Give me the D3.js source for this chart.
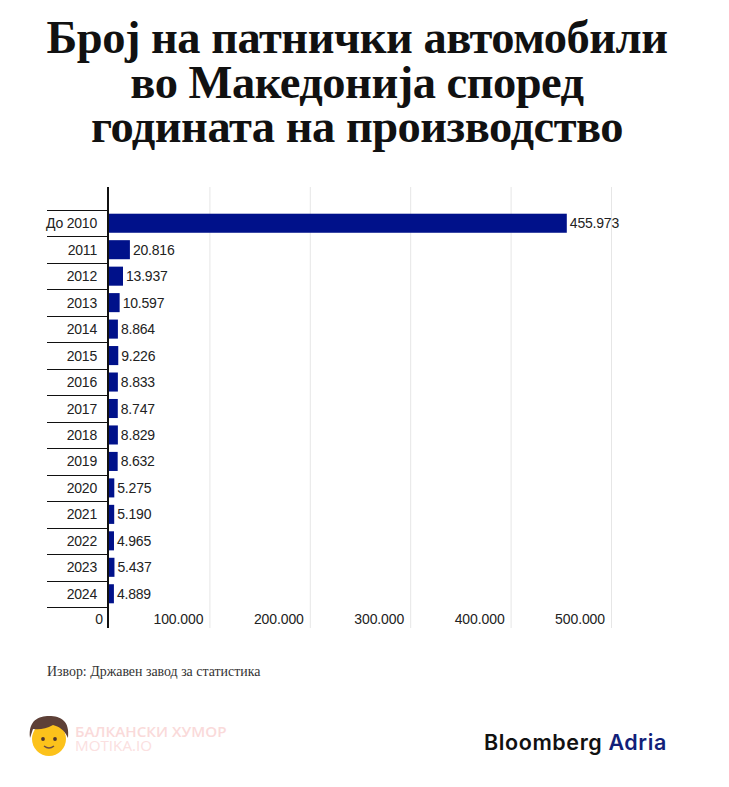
<!DOCTYPE html>
<html>
<head>
<meta charset="utf-8">
<script src="https://cdn.jsdelivr.net/npm/d3@7"></script>
<style>
  body { margin: 0; background: #fff; }
  svg { display: block; }
</style>
</head>
<body>
<svg width="729" height="787"></svg>
<script>
// data
var categories = ["До 2010", "2011", "2012", "2013", "2014", "2015", "2016", "2017",
                  "2018", "2019", "2020", "2021", "2022", "2023", "2024"];
var values = [455973, 20816, 13937, 10597, 8864, 9226, 8833, 8747,
              8829, 8632, 5275, 5190, 4965, 5437, 4889];
var ticks = [0, 100000, 200000, 300000, 400000, 500000];
var titleLines = ["Број на патнички автомобили", "во Македонија според", "годината на производство"];

var svg = d3.select("svg");

var locale = d3.formatLocale({ decimal: ",", thousands: ".", grouping: [3], currency: ["", ""] });
var fmt = locale.format(",d");

var scaleX = d3.scaleLinear()
                .domain([0, 500000])
                .range([109, 611]);

var scaleY = d3.scaleBand()
                .domain(categories)
                .range([210, 607])
                .paddingInner(0.28)
                .paddingOuter(0.14);

var step = scaleY.step();

// title
svg.append("g").selectAll("text")
    .data(titleLines)
    .enter()
    .append("text")
    .attr("x", 357)
    .attr("y", function(d, i) { return 53 + i * 44.5; })
    .attr("text-anchor", "middle")
    .style("font-family", "'Liberation Serif', 'Times New Roman', serif")
    .style("font-weight", "bold")
    .style("font-size", "46.5px")
    .style("letter-spacing", "-0.5px")
    .attr("fill", "#111")
    .text(function(d) { return d; });

// gridlines
svg.append("g").selectAll("line")
    .data(ticks.slice(1))
    .enter()
    .append("line")
    .attr("x1", function(d) { return scaleX(d) + 0.5; })
    .attr("x2", function(d) { return scaleX(d) + 0.5; })
    .attr("y1", 187)
    .attr("y2", 628)
    .attr("stroke", "#e6e6e6")
    .attr("stroke-width", 1);

// row separators on the label side
var bounds = categories.map(function(c) { return scaleY(c) - scaleY.paddingOuter() * step; });
bounds.push(bounds[bounds.length - 1] + step);

svg.append("g").selectAll("line")
    .data(bounds)
    .enter()
    .append("line")
    .attr("x1", 47)
    .attr("x2", 108)
    .attr("y1", function(d) { return Math.round(d) + 0.5; })
    .attr("y2", function(d) { return Math.round(d) + 0.5; })
    .attr("stroke", "#111")
    .attr("stroke-width", 1.2);

// bars
svg.append("g").selectAll("rect")
    .data(values)
    .enter()
    .append("rect")
    .attr("x", scaleX(0))
    .attr("y", function(d, i) { return scaleY(categories[i]); })
    .attr("width", function(d) { return scaleX(d) - scaleX(0); })
    .attr("height", scaleY.bandwidth())
    .attr("fill", "#00118a");

// category labels
svg.append("g").selectAll("text")
    .data(categories)
    .enter()
    .append("text")
    .attr("x", 97)
    .attr("y", function(d) { return scaleY(d) + scaleY.bandwidth() / 2 + 5; })
    .attr("text-anchor", "end")
    .style("font-family", "'Liberation Sans', Arial, sans-serif")
    .style("font-size", "14px")
    .style("letter-spacing", "-0.2px")
    .attr("fill", "#222")
    .text(function(d) { return d; });

// value labels
svg.append("g").selectAll("text")
    .data(values)
    .enter()
    .append("text")
    .attr("x", function(d) { return scaleX(d) + 3; })
    .attr("y", function(d, i) { return scaleY(categories[i]) + scaleY.bandwidth() / 2 + 5; })
    .style("font-family", "'Liberation Sans', Arial, sans-serif")
    .style("font-size", "14px")
    .style("letter-spacing", "-0.2px")
    .attr("fill", "#222")
    .text(function(d) { return fmt(d); });

// x tick labels
svg.append("g").selectAll("text")
    .data(ticks)
    .enter()
    .append("text")
    .attr("x", function(d) { return scaleX(d) - 6; })
    .attr("y", 624)
    .attr("text-anchor", "end")
    .style("font-family", "'Liberation Sans', Arial, sans-serif")
    .style("font-size", "14px")
    .style("letter-spacing", "-0.1px")
    .attr("fill", "#222")
    .text(function(d) { return fmt(d); });

// axis line
svg.append("line")
    .attr("x1", 108).attr("x2", 108)
    .attr("y1", 187).attr("y2", 628)
    .attr("stroke", "#111")
    .attr("stroke-width", 2);

// source
svg.append("text")
    .attr("x", 47)
    .attr("y", 676)
    .style("font-family", "'Liberation Serif', 'Times New Roman', serif")
    .style("font-size", "13.9px")
    .attr("fill", "#333")
    .text("Извор: Државен завод за статистика");

// watermark
var wm = svg.append("g");
wm.append("circle").attr("cx", 49).attr("cy", 739).attr("r", 17).attr("fill", "#fcc21b");
wm.append("path")
    .attr("d", "M30,738 C28,720 39,716 49,716 C61,716 70,721 68,738 C64,729 59,727 53,725 C46,729 39,730 33,729 Z")
    .attr("fill", "#5d4037");
wm.append("circle").attr("cx", 43).attr("cy", 739).attr("r", 1.9).attr("fill", "#4e342e");
wm.append("circle").attr("cx", 55).attr("cy", 739).attr("r", 1.9).attr("fill", "#4e342e");
wm.append("path").attr("d", "M44,746 Q49,750 54,746").attr("stroke", "#6d4c41").attr("fill", "none").attr("stroke-width", 1.4);
wm.append("text").attr("x", 75).attr("y", 737)
    .style("font-family", "'Open Sans', 'Liberation Sans', sans-serif").style("font-size", "15.2px")
    .style("font-weight", "600")
    .attr("fill", "#fadada").text("БАЛКАНСКИ ХУМОР");
wm.append("text").attr("x", 75).attr("y", 751)
    .style("font-family", "'Open Sans', 'Liberation Sans', sans-serif").style("font-size", "15.2px")
    .attr("fill", "#fbe0e0").text("MOTIKA.IO");

// logo
var logo = svg.append("text")
    .attr("x", 484)
    .attr("y", 750)
    .style("font-family", "Inter, 'Liberation Sans', sans-serif")
    .style("font-size", "21.5px")
    .style("font-weight", "600")
    .style("letter-spacing", "0.6px");
logo.append("tspan").attr("fill", "#111").text("Bloomberg ");
logo.append("tspan").attr("fill", "#121f7a").text("Adria");
</script>
</body>
</html>
